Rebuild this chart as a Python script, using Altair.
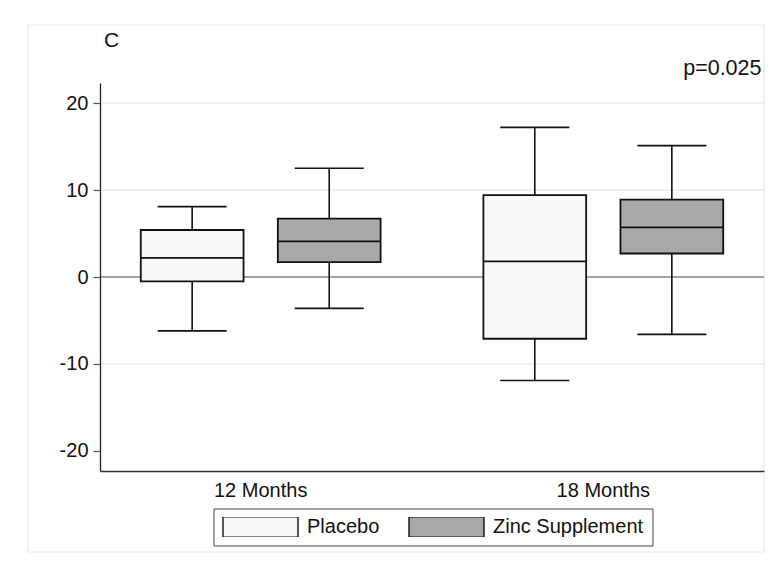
import altair as alt
import pandas as pd

# ---- data ----
times = ["12 Months", "12 Months", "18 Months", "18 Months"]
groups = ["Placebo", "Zinc Supplement", "Placebo", "Zinc Supplement"]
whisker_low = [-6.2, -3.6, -11.9, -6.6]
q1 = [-0.5, 1.7, -7.1, 2.7]
median = [2.2, 4.1, 1.8, 5.7]
q3 = [5.4, 6.7, 9.4, 8.9]
whisker_high = [8.1, 12.5, 17.2, 15.1]

time_order = ["12 Months", "18 Months"]
group_order = ["Placebo", "Zinc Supplement"]
group_colors = ["#f7f7f7", "#a8a8a8"]
y_ticks = [-20, -10, 0, 10, 20]
grid_values = [20, 10, -10]
ref_values = [0]
panel_label = "C"
p_text = "p=0.025"

df = pd.DataFrame({
    "time": times, "group": groups, "low": whisker_low, "q1": q1,
    "median": median, "q3": q3, "high": whisker_high,
})

FONT = "Liberation Sans"
FS = 20
W, H = 664, 388

yscale = alt.Scale(domain=[-22.3, 22.3], nice=False, zero=False)
xscale = alt.Scale(domain=time_order, paddingInner=0.2, paddingOuter=0.069)
xoff_scale = alt.Scale(domain=group_order, paddingInner=0.25, paddingOuter=0.125)

x_enc = alt.X("time:N", scale=xscale, sort=time_order,
              axis=alt.Axis(title=None, labelAngle=0, ticks=False, labelPadding=9,
                            labelFontSize=FS, labelFont=FONT, labelColor="#111",
                            domainColor="#333", domainWidth=1.3, grid=False, zindex=1))
xo_enc = alt.XOffset("group:N", scale=xoff_scale, sort=group_order)

panel = alt.Chart(pd.DataFrame({"k": [0]})).mark_rect(
    fill="transparent", stroke="#e3ecef", strokeWidth=1.2
).encode(x=alt.value(-72), x2=alt.value(W), y=alt.value(-58), y2=alt.value(469))

grid = alt.Chart(pd.DataFrame({"v": grid_values})).mark_rule(
    color="#e6eef1", strokeWidth=1.5
).encode(y=alt.Y("v:Q", scale=yscale))

zero = alt.Chart(pd.DataFrame({"v": ref_values})).mark_rule(
    color="#a3a3a3", strokeWidth=2
).encode(y=alt.Y("v:Q", scale=yscale))

base = alt.Chart(df)

lower_whisker = base.mark_rule(color="#111", strokeWidth=1.6).encode(
    x=x_enc, xOffset=xo_enc,
    y=alt.Y("low:Q", scale=yscale,
            axis=alt.Axis(title=None, values=y_ticks, grid=False, tickSize=7,
                          tickColor="#555", tickWidth=1.2, labelPadding=5,
                          labelExpr="'' + datum.value",
                          labelFontSize=FS, labelFont=FONT, labelColor="#111",
                          domainColor="#222", domainWidth=1.3, zindex=1)),
    y2="q1:Q",
)
upper_whisker = base.mark_rule(color="#111", strokeWidth=1.6).encode(
    x=x_enc, xOffset=xo_enc, y=alt.Y("q3:Q", scale=yscale), y2="high:Q"
)

box = base.mark_bar(stroke="#111", strokeWidth=1.8, opacity=1).encode(
    x=x_enc, xOffset=xo_enc,
    y=alt.Y("q1:Q", scale=yscale), y2="q3:Q",
    color=alt.Color(
        "group:N",
        scale=alt.Scale(domain=group_order, range=group_colors),
        legend=alt.Legend(
            title=None, orient="none", legendX=113.5, legendY=425.5,
            direction="horizontal",
            symbolType="M-1,-0.27H1V0.27H-1Z", symbolSize=5625,
            symbolStrokeColor="#111", symbolStrokeWidth=1.4,
            symbolOpacity=1,
            clipHeight=20, labelOffset=8, columnPadding=28,
            labelFontSize=FS, labelFont=FONT, labelColor="#111",
            strokeColor="#444", fillColor="white", padding=8.5,
        ),
    ),
)

cap_low = base.mark_tick(color="#111", size=69, thickness=1.7, opacity=1).encode(
    x=x_enc, xOffset=xo_enc, y=alt.Y("low:Q", scale=yscale)
)
cap_high = base.mark_tick(color="#111", size=69, thickness=1.7, opacity=1).encode(
    x=x_enc, xOffset=xo_enc, y=alt.Y("high:Q", scale=yscale)
)
med = base.mark_tick(color="#111", size=102.8, thickness=1.7, opacity=1).encode(
    x=x_enc, xOffset=xo_enc, y=alt.Y("median:Q", scale=yscale)
)

label_c = alt.Chart(pd.DataFrame({"t": [panel_label]})).mark_text(
    font=FONT, fontSize=21, color="#111", align="center", baseline="alphabetic"
).encode(text="t:N", x=alt.value(11.7), y=alt.value(-36))

label_p = alt.Chart(pd.DataFrame({"t": [p_text]})).mark_text(
    font=FONT, fontSize=21.5, color="#111", align="right", baseline="alphabetic"
).encode(text="t:N", x=alt.value(W - 2.5), y=alt.value(-8))

chart = alt.layer(
    panel, grid, zero, lower_whisker, upper_whisker, box, cap_low, cap_high, med,
    label_c, label_p
).properties(
    width=W, height=H,
    autosize=alt.AutoSizeParams(type="none"),
    padding={"left": 92, "top": 75, "right": 5, "bottom": 90},
    background="white",
).configure_view(stroke=None).configure_axis(labelFont=FONT)

chart.save("out.html", embed_options={"renderer": "svg", "actions": False})
